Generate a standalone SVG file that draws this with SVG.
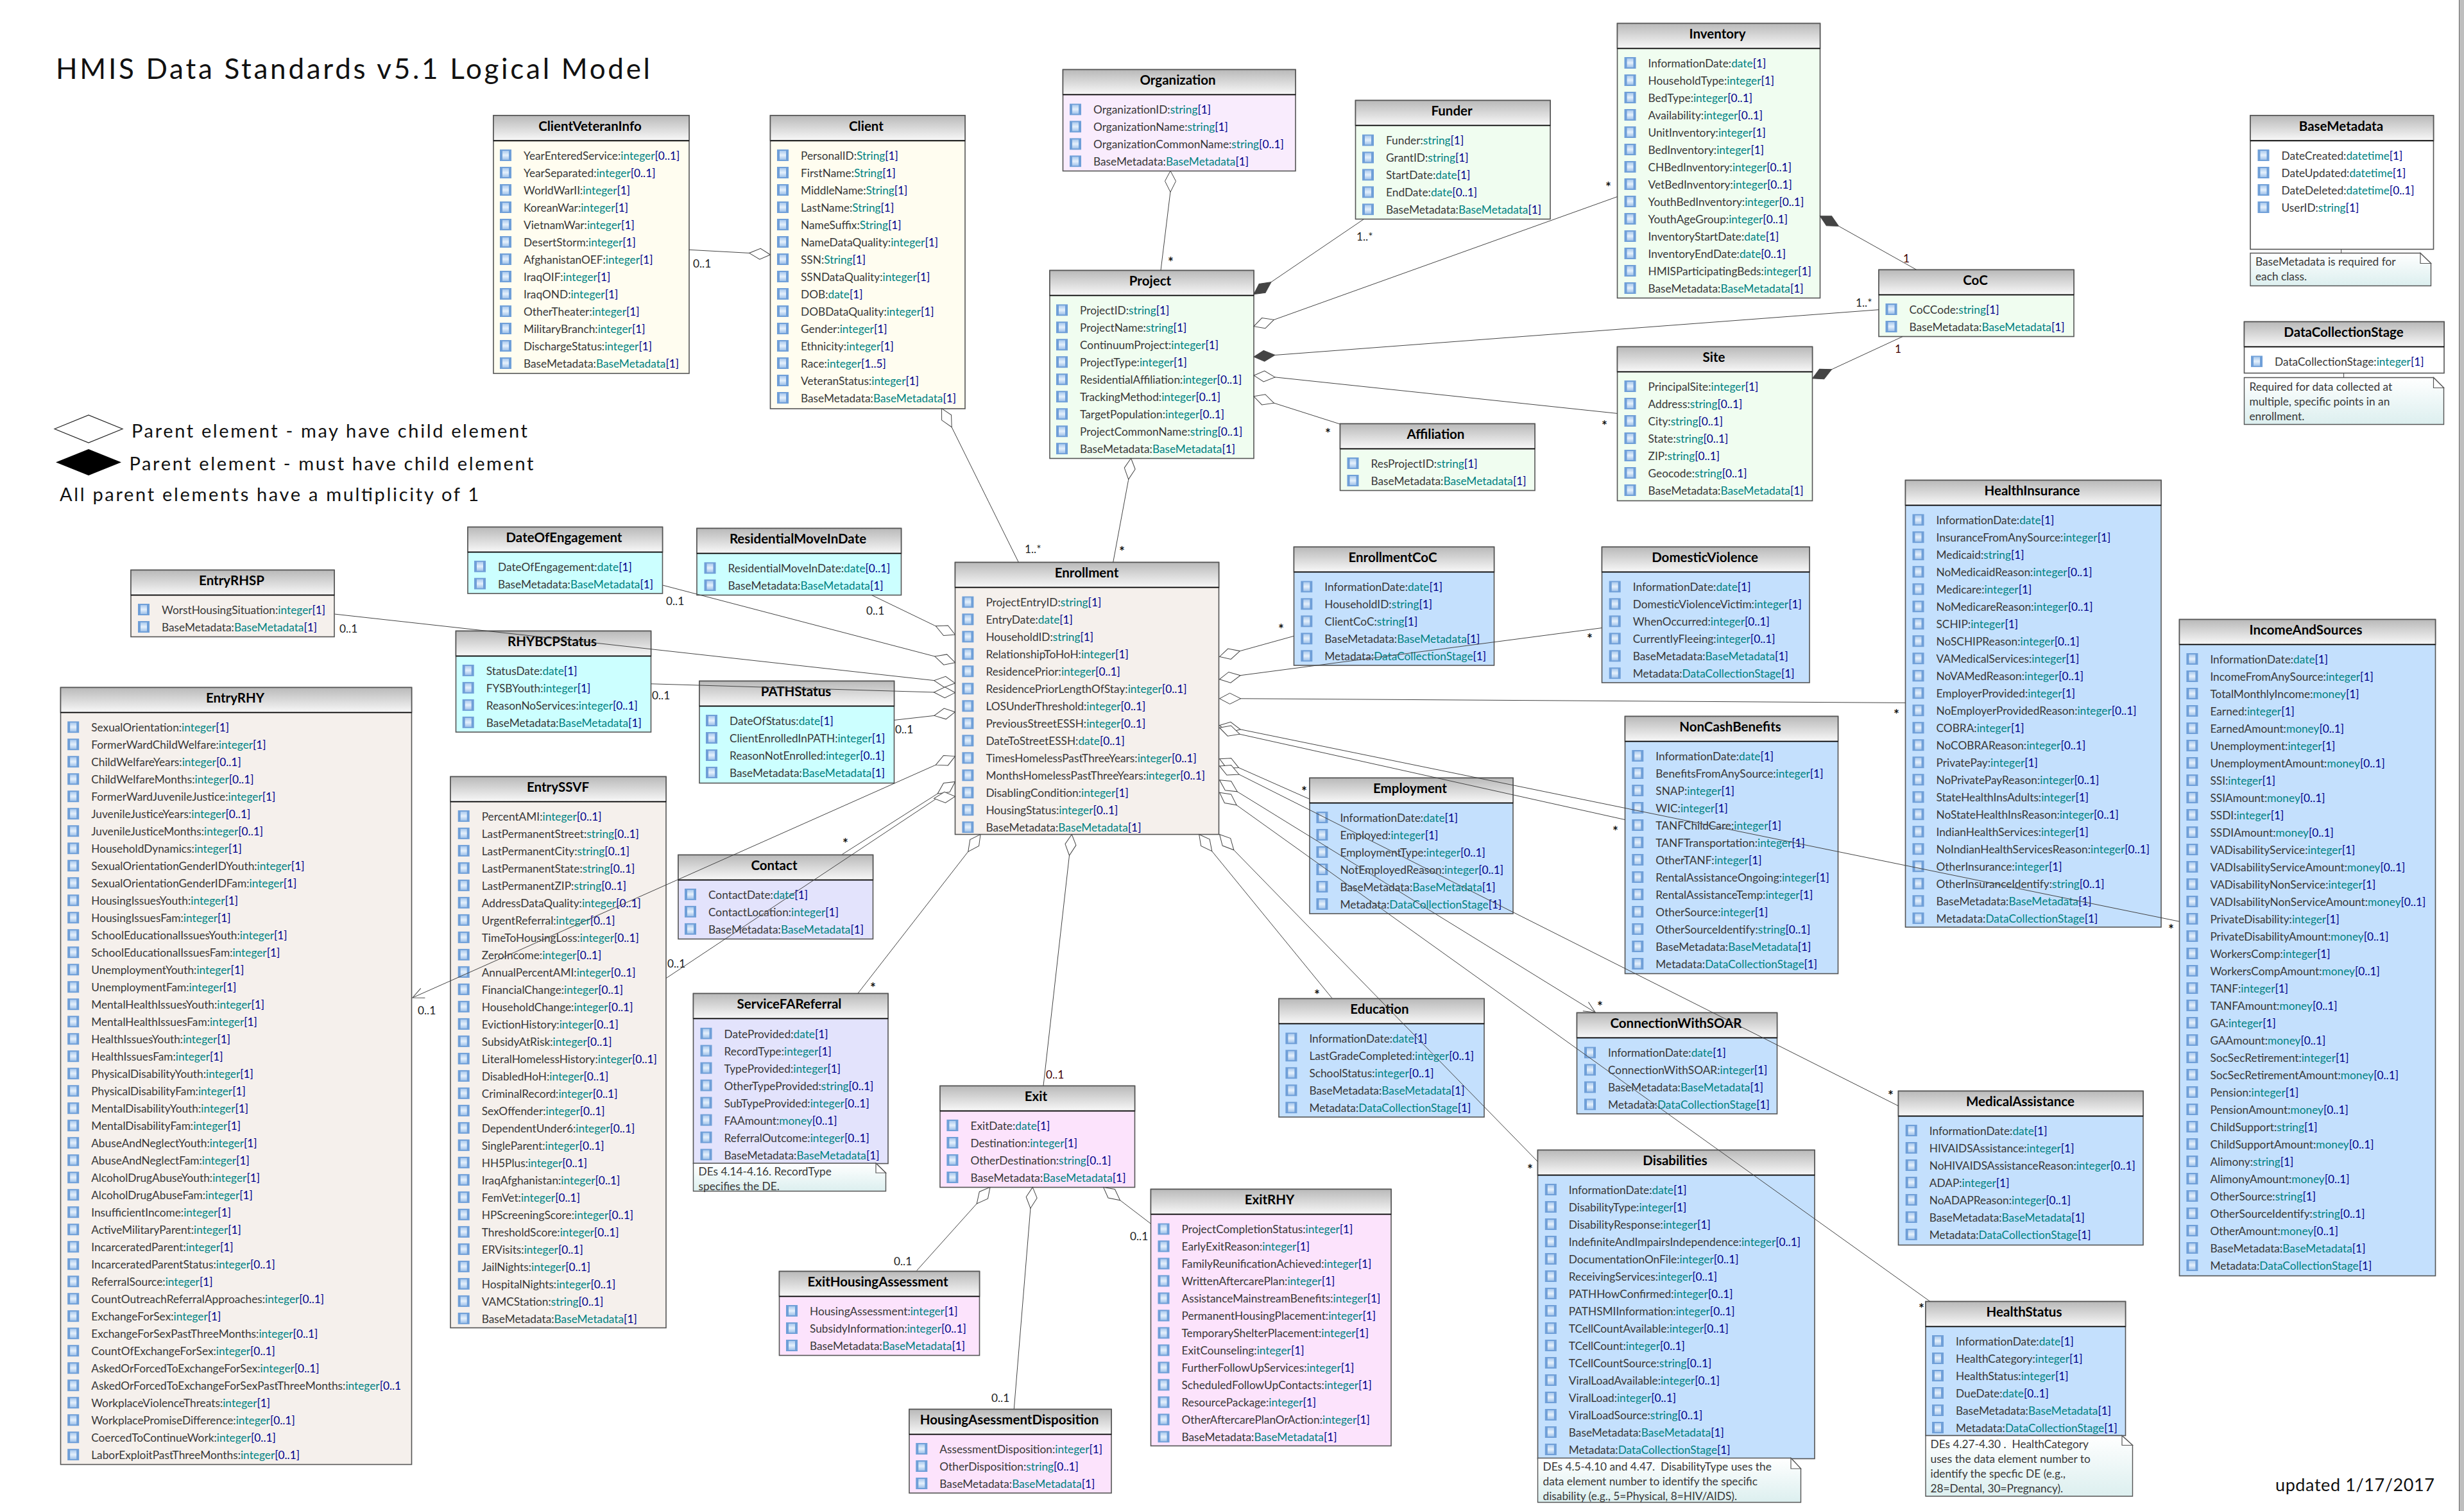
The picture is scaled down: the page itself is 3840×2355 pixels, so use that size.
<svg xmlns="http://www.w3.org/2000/svg" xmlns:xlink="http://www.w3.org/1999/xlink" width="3840" height="2355" viewBox="0 0 3840 2355">
<style>
text{font-family:"Lato","Carlito","Open Sans",sans-serif;fill:#383838}
.r text,.nt{font-size:17.3px}
.r text{transform:translateY(1px)}
.t{fill:#008282}
.m{fill:#00008b}
.ti{font-size:20.5px;font-weight:700;fill:#000;text-anchor:middle}
.b{stroke:#555;stroke-width:1.6}
.h{fill:url(#hg);stroke:#555;stroke-width:1.6}
.s{stroke:#000;stroke-width:1.6}
.ic{fill:url(#ip)}
.fy{fill:#fffdf0}.fp{fill:#f9ecfd}.fg{fill:#f0fdf0}.fc{fill:#ccffff}.fs{fill:#f5f0ec}.fl{fill:#e3e3fc}.fm{fill:#fce3fc}.fb{fill:#c4e0fd}.fw{fill:#fff}
.note{fill:url(#ng);stroke:#555;stroke-width:1.4}
.fold{fill:#fff;stroke:#555;stroke-width:1.2}
.lg{font-size:29px;fill:#111;font-weight:400}
.lb{font-size:17.3px;fill:#222}
.st{font-size:21px;fill:#111;font-weight:700}
.lm{font-size:17.3px;fill:#400}
#connectors path{fill:none;stroke:#444;stroke-width:1}
.o{marker-start:url(#od)}
.f{marker-start:url(#fd)}
.a{marker-end:url(#oa)}
</style>
<defs>
<linearGradient id="hg" x1="0" y1="0" x2="0" y2="1"><stop offset="0" stop-color="#b9b9b9"/><stop offset="1" stop-color="#f8f8f8"/></linearGradient>
<linearGradient id="ng" x1="0" y1="0" x2="0" y2="1"><stop offset="0" stop-color="#fff"/><stop offset="1" stop-color="#dcefef"/></linearGradient>
<linearGradient id="ii" x1="0" y1="0" x2="0" y2="1"><stop offset="0" stop-color="#a9c9ee"/><stop offset=".5" stop-color="#e6f1fc"/><stop offset="1" stop-color="#9fc2ea"/></linearGradient>
<pattern id="ip" patternUnits="userSpaceOnUse" x="-37" y="-15" width="18" height="27"><rect width="18" height="18" fill="#6f9fd8"/><rect x="4" y="2" width="10" height="14" fill="url(#ii)"/></pattern>
<marker id="od" markerUnits="userSpaceOnUse" orient="auto" refX="1" refY="11" markerWidth="36" markerHeight="22"><path d="M1,11 L17,2.5 L34,11 L17,19.5 Z" fill="#fff" stroke="#444" stroke-width="1"/></marker>
<marker id="fd" markerUnits="userSpaceOnUse" orient="auto" refX="1" refY="11" markerWidth="36" markerHeight="22"><path d="M1,11 L17,2.5 L34,11 L17,19.5 Z" fill="#444" stroke="#444" stroke-width="1"/></marker>
<marker id="oa" markerUnits="userSpaceOnUse" orient="auto" refX="20" refY="10" markerWidth="22" markerHeight="20"><path d="M2.3,1.8 L20,10 L2.3,18.2" fill="none" stroke="#444" stroke-width="1"/></marker>
</defs>
<rect width="3840" height="2355" fill="#fff"/>
<rect x="3832.5" y="0" width="7.5" height="2355" fill="#bebebe"/>
<rect x="3832" y="0" width="1" height="2355" fill="#666"/>

<g id="legend">
<text x="87" y="122.5" font-size="44" textLength="926" style="fill:#111">HMIS Data Standards v5.1 Logical Model</text>
<polygon points="85,668.5 138,647 191,668.5 138,690" fill="#fff" stroke="#222" stroke-width="1.2"/>
<text class="lg" x="205" y="682" textLength="617">Parent element - may have child element</text>
<polygon points="87,720.5 138,700 189,720.5 138,741" fill="#000"/>
<text class="lg" x="201.5" y="733" textLength="630">Parent element - must have child element</text>
<text class="lg" x="93" y="781" textLength="653">All parent elements have a multiplicity of 1</text>
</g>
<text class="lg" id="updated" x="3546" y="2324" style="font-size:27px" textLength="248">updated 1/17/2017</text>

<g id="ClientVeteranInfo"><rect class="b fy" x="769" y="180" width="305" height="402"/><rect class="h" x="769" y="180" width="305" height="39"/><line class="s" x1="769" y1="219.5" x2="1074" y2="219.5"/><text class="ti" x="919.5" y="203.5">ClientVeteranInfo</text>
<g class="r" transform="translate(816,248)"><rect class="ic" x="-37" y="-15" width="18" height="342"/>
<text y="0">YearEnteredService:<tspan class="t">integer</tspan><tspan class="m">[0..1]</tspan></text>
<text y="27">YearSeparated:<tspan class="t">integer</tspan><tspan class="m">[0..1]</tspan></text>
<text y="54">WorldWarII:<tspan class="t">integer</tspan><tspan class="m">[1]</tspan></text>
<text y="81">KoreanWar:<tspan class="t">integer</tspan><tspan class="m">[1]</tspan></text>
<text y="108">VietnamWar:<tspan class="t">integer</tspan><tspan class="m">[1]</tspan></text>
<text y="135">DesertStorm:<tspan class="t">integer</tspan><tspan class="m">[1]</tspan></text>
<text y="162">AfghanistanOEF:<tspan class="t">integer</tspan><tspan class="m">[1]</tspan></text>
<text y="189">IraqOIF:<tspan class="t">integer</tspan><tspan class="m">[1]</tspan></text>
<text y="216">IraqOND:<tspan class="t">integer</tspan><tspan class="m">[1]</tspan></text>
<text y="243">OtherTheater:<tspan class="t">integer</tspan><tspan class="m">[1]</tspan></text>
<text y="270">MilitaryBranch:<tspan class="t">integer</tspan><tspan class="m">[1]</tspan></text>
<text y="297">DischargeStatus:<tspan class="t">integer</tspan><tspan class="m">[1]</tspan></text>
<text y="324">BaseMetadata:<tspan class="t">BaseMetadata</tspan><tspan class="m">[1]</tspan></text>
</g></g>

<g id="Client"><rect class="b fy" x="1200.5" y="180" width="303.5" height="457"/><rect class="h" x="1200.5" y="180" width="303.5" height="39"/><line class="s" x1="1200.5" y1="219.5" x2="1504" y2="219.5"/><text class="ti" x="1350" y="203.5">Client</text>
<g class="r" transform="translate(1248,248)"><rect class="ic" x="-37" y="-15" width="18" height="396"/>
<text y="0">PersonalID:<tspan class="t">String</tspan><tspan class="m">[1]</tspan></text>
<text y="27">FirstName:<tspan class="t">String</tspan><tspan class="m">[1]</tspan></text>
<text y="54">MiddleName:<tspan class="t">String</tspan><tspan class="m">[1]</tspan></text>
<text y="81">LastName:<tspan class="t">String</tspan><tspan class="m">[1]</tspan></text>
<text y="108">NameSuffix:<tspan class="t">String</tspan><tspan class="m">[1]</tspan></text>
<text y="135">NameDataQuality:<tspan class="t">integer</tspan><tspan class="m">[1]</tspan></text>
<text y="162">SSN:<tspan class="t">String</tspan><tspan class="m">[1]</tspan></text>
<text y="189">SSNDataQuality:<tspan class="t">integer</tspan><tspan class="m">[1]</tspan></text>
<text y="216">DOB:<tspan class="t">date</tspan><tspan class="m">[1]</tspan></text>
<text y="243">DOBDataQuality:<tspan class="t">integer</tspan><tspan class="m">[1]</tspan></text>
<text y="270">Gender:<tspan class="t">integer</tspan><tspan class="m">[1]</tspan></text>
<text y="297">Ethnicity:<tspan class="t">integer</tspan><tspan class="m">[1]</tspan></text>
<text y="324">Race:<tspan class="t">integer</tspan><tspan class="m">[1..5]</tspan></text>
<text y="351">VeteranStatus:<tspan class="t">integer</tspan><tspan class="m">[1]</tspan></text>
<text y="378">BaseMetadata:<tspan class="t">BaseMetadata</tspan><tspan class="m">[1]</tspan></text>
</g></g>

<g id="Organization"><rect class="b fp" x="1656.5" y="108.5" width="362.5" height="158"/><rect class="h" x="1656.5" y="108.5" width="362.5" height="39"/><line class="s" x1="1656.5" y1="147.5" x2="2019" y2="147.5"/><text class="ti" x="1835.5" y="132">Organization</text>
<g class="r" transform="translate(1704,176.4)"><rect class="ic" x="-37" y="-15" width="18" height="99"/>
<text y="0">OrganizationID:<tspan class="t">string</tspan><tspan class="m">[1]</tspan></text>
<text y="27">OrganizationName:<tspan class="t">string</tspan><tspan class="m">[1]</tspan></text>
<text y="54">OrganizationCommonName:<tspan class="t">string</tspan><tspan class="m">[0..1]</tspan></text>
<text y="81">BaseMetadata:<tspan class="t">BaseMetadata</tspan><tspan class="m">[1]</tspan></text>
</g></g>

<g id="Funder"><rect class="b fg" x="2112.5" y="156.5" width="303.5" height="185"/><rect class="h" x="2112.5" y="156.5" width="303.5" height="39"/><line class="s" x1="2112.5" y1="195.5" x2="2416" y2="195.5"/><text class="ti" x="2262.5" y="180">Funder</text>
<g class="r" transform="translate(2160,224.4)"><rect class="ic" x="-37" y="-15" width="18" height="126"/>
<text y="0">Funder:<tspan class="t">string</tspan><tspan class="m">[1]</tspan></text>
<text y="27">GrantID:<tspan class="t">string</tspan><tspan class="m">[1]</tspan></text>
<text y="54">StartDate:<tspan class="t">date</tspan><tspan class="m">[1]</tspan></text>
<text y="81">EndDate:<tspan class="t">date</tspan><tspan class="m">[0..1]</tspan></text>
<text y="108">BaseMetadata:<tspan class="t">BaseMetadata</tspan><tspan class="m">[1]</tspan></text>
</g></g>

<g id="Project"><rect class="b fg" x="1636" y="421.5" width="318" height="293"/><rect class="h" x="1636" y="421.5" width="318" height="39"/><line class="s" x1="1636" y1="460.5" x2="1954" y2="460.5"/><text class="ti" x="1792.5" y="445">Project</text>
<g class="r" transform="translate(1683,489.2)"><rect class="ic" x="-37" y="-15" width="18" height="234"/>
<text y="0">ProjectID:<tspan class="t">string</tspan><tspan class="m">[1]</tspan></text>
<text y="27">ProjectName:<tspan class="t">string</tspan><tspan class="m">[1]</tspan></text>
<text y="54">ContinuumProject:<tspan class="t">integer</tspan><tspan class="m">[1]</tspan></text>
<text y="81">ProjectType:<tspan class="t">integer</tspan><tspan class="m">[1]</tspan></text>
<text y="108">ResidentialAffiliation:<tspan class="t">integer</tspan><tspan class="m">[0..1]</tspan></text>
<text y="135">TrackingMethod:<tspan class="t">integer</tspan><tspan class="m">[0..1]</tspan></text>
<text y="162">TargetPopulation:<tspan class="t">integer</tspan><tspan class="m">[0..1]</tspan></text>
<text y="189">ProjectCommonName:<tspan class="t">string</tspan><tspan class="m">[0..1]</tspan></text>
<text y="216">BaseMetadata:<tspan class="t">BaseMetadata</tspan><tspan class="m">[1]</tspan></text>
</g></g>

<g id="Affiliation"><rect class="b fg" x="2088.5" y="660.5" width="303.5" height="104"/><rect class="h" x="2088.5" y="660.5" width="303.5" height="39"/><line class="s" x1="2088.5" y1="699.5" x2="2392" y2="699.5"/><text class="ti" x="2237.5" y="684">Affiliation</text>
<g class="r" transform="translate(2136.5,728)"><rect class="ic" x="-37" y="-15" width="18" height="45"/>
<text y="0">ResProjectID:<tspan class="t">string</tspan><tspan class="m">[1]</tspan></text>
<text y="27">BaseMetadata:<tspan class="t">BaseMetadata</tspan><tspan class="m">[1]</tspan></text>
</g></g>

<g id="Inventory"><rect class="b fg" x="2520.5" y="36.5" width="316" height="428"/><rect class="h" x="2520.5" y="36.5" width="316" height="39"/><line class="s" x1="2520.5" y1="75.5" x2="2836.5" y2="75.5"/><text class="ti" x="2676.5" y="60">Inventory</text>
<g class="r" transform="translate(2568.5,104)"><rect class="ic" x="-37" y="-15" width="18" height="369"/>
<text y="0">InformationDate:<tspan class="t">date</tspan><tspan class="m">[1]</tspan></text>
<text y="27">HouseholdType:<tspan class="t">integer</tspan><tspan class="m">[1]</tspan></text>
<text y="54">BedType:<tspan class="t">integer</tspan><tspan class="m">[0..1]</tspan></text>
<text y="81">Availability:<tspan class="t">integer</tspan><tspan class="m">[0..1]</tspan></text>
<text y="108">UnitInventory:<tspan class="t">integer</tspan><tspan class="m">[1]</tspan></text>
<text y="135">BedInventory:<tspan class="t">integer</tspan><tspan class="m">[1]</tspan></text>
<text y="162">CHBedInventory:<tspan class="t">integer</tspan><tspan class="m">[0..1]</tspan></text>
<text y="189">VetBedInventory:<tspan class="t">integer</tspan><tspan class="m">[0..1]</tspan></text>
<text y="216">YouthBedInventory:<tspan class="t">integer</tspan><tspan class="m">[0..1]</tspan></text>
<text y="243">YouthAgeGroup:<tspan class="t">integer</tspan><tspan class="m">[0..1]</tspan></text>
<text y="270">InventoryStartDate:<tspan class="t">date</tspan><tspan class="m">[1]</tspan></text>
<text y="297">InventoryEndDate:<tspan class="t">date</tspan><tspan class="m">[0..1]</tspan></text>
<text y="324">HMISParticipatingBeds:<tspan class="t">integer</tspan><tspan class="m">[1]</tspan></text>
<text y="351">BaseMetadata:<tspan class="t">BaseMetadata</tspan><tspan class="m">[1]</tspan></text>
</g></g>

<g id="Site"><rect class="b fg" x="2520.5" y="540.5" width="304" height="240"/><rect class="h" x="2520.5" y="540.5" width="304" height="39"/><line class="s" x1="2520.5" y1="579.5" x2="2824.5" y2="579.5"/><text class="ti" x="2671" y="564">Site</text>
<g class="r" transform="translate(2568.5,608)"><rect class="ic" x="-37" y="-15" width="18" height="180"/>
<text y="0">PrincipalSite:<tspan class="t">integer</tspan><tspan class="m">[1]</tspan></text>
<text y="27">Address:<tspan class="t">string</tspan><tspan class="m">[0..1]</tspan></text>
<text y="54">City:<tspan class="t">string</tspan><tspan class="m">[0..1]</tspan></text>
<text y="81">State:<tspan class="t">string</tspan><tspan class="m">[0..1]</tspan></text>
<text y="108">ZIP:<tspan class="t">string</tspan><tspan class="m">[0..1]</tspan></text>
<text y="135">Geocode:<tspan class="t">string</tspan><tspan class="m">[0..1]</tspan></text>
<text y="162">BaseMetadata:<tspan class="t">BaseMetadata</tspan><tspan class="m">[1]</tspan></text>
</g></g>

<g id="CoC"><rect class="b fg" x="2928" y="420.5" width="304" height="104"/><rect class="h" x="2928" y="420.5" width="304" height="39"/><line class="s" x1="2928" y1="459.5" x2="3232" y2="459.5"/><text class="ti" x="3078.5" y="444">CoC</text>
<g class="r" transform="translate(2975.5,488)"><rect class="ic" x="-37" y="-15" width="18" height="45"/>
<text y="0">CoCCode:<tspan class="t">string</tspan><tspan class="m">[1]</tspan></text>
<text y="27">BaseMetadata:<tspan class="t">BaseMetadata</tspan><tspan class="m">[1]</tspan></text>
</g></g>

<g id="BaseMetadata"><rect class="b fw" x="3507" y="180" width="285.5" height="208.5"/><rect class="h" x="3507" y="180" width="285.5" height="39"/><line class="s" x1="3507" y1="219.5" x2="3792.5" y2="219.5"/><text class="ti" x="3648.5" y="203.5">BaseMetadata</text>
<g class="r" transform="translate(3555.5,248)"><rect class="ic" x="-37" y="-15" width="18" height="99"/>
<text y="0">DateCreated:<tspan class="t">datetime</tspan><tspan class="m">[1]</tspan></text>
<text y="27">DateUpdated:<tspan class="t">datetime</tspan><tspan class="m">[1]</tspan></text>
<text y="54">DateDeleted:<tspan class="t">datetime</tspan><tspan class="m">[0..1]</tspan></text>
<text y="81">UserID:<tspan class="t">string</tspan><tspan class="m">[1]</tspan></text>
</g></g>
<g id="BaseMetadataNote"><path class="note" d="M3507,394.5 H3772 L3788.5,410.5 V445.5 H3507 Z"/><path class="fold" d="M3772,394.5 V410.5 H3788.5 Z"/><text class="nt" x="3515" y="414">BaseMetadata is required for</text><text class="nt" x="3515" y="437">each class.</text></g>

<g id="DataCollectionStage"><rect class="b fw" x="3497.5" y="501.5" width="311.5" height="80"/><rect class="h" x="3497.5" y="501.5" width="311.5" height="39"/><line class="s" x1="3497.5" y1="540.5" x2="3809" y2="540.5"/><text class="ti" x="3652.5" y="525">DataCollectionStage</text>
<g class="r" transform="translate(3545,569.3)"><rect class="ic" x="-37" y="-15" width="18" height="18"/>
<text y="0">DataCollectionStage:<tspan class="t">integer</tspan><tspan class="m">[1]</tspan></text>
</g></g>
<g id="DataCollectionStageNote"><path class="note" d="M3497.5,588.5 H3792.5 L3808.5,604.5 V661.5 H3497.5 Z"/><path class="fold" d="M3792.5,588.5 V604.5 H3808.5 Z"/><text class="nt" x="3505.5" y="608.5">Required for data collected at</text><text class="nt" x="3505.5" y="631.5">multiple, specific points in an</text><text class="nt" x="3505.5" y="654.5">enrollment.</text></g>

<g id="EntryRHSP"><rect class="b fs" x="204" y="888.5" width="317" height="104"/><rect class="h" x="204" y="888.5" width="317" height="39"/><line class="s" x1="204" y1="927.5" x2="521" y2="927.5"/><text class="ti" x="361" y="912">EntryRHSP</text>
<g class="r" transform="translate(252,956)"><rect class="ic" x="-37" y="-15" width="18" height="45"/>
<text y="0">WorstHousingSituation:<tspan class="t">integer</tspan><tspan class="m">[1]</tspan></text>
<text y="27">BaseMetadata:<tspan class="t">BaseMetadata</tspan><tspan class="m">[1]</tspan></text>
</g></g>

<g id="EntryRHY"><rect class="b fs" x="94.5" y="1071.5" width="547" height="1211"/><rect class="h" x="94.5" y="1071.5" width="547" height="39"/><line class="s" x1="94.5" y1="1110.5" x2="641.5" y2="1110.5"/><text class="ti" x="366.5" y="1095">EntryRHY</text>
<g class="r" transform="translate(142.2,1139.2)"><rect class="ic" x="-37" y="-15" width="18" height="1152"/>
<text y="0">SexualOrientation:<tspan class="t">integer</tspan><tspan class="m">[1]</tspan></text>
<text y="27">FormerWardChildWelfare:<tspan class="t">integer</tspan><tspan class="m">[1]</tspan></text>
<text y="54">ChildWelfareYears:<tspan class="t">integer</tspan><tspan class="m">[0..1]</tspan></text>
<text y="81">ChildWelfareMonths:<tspan class="t">integer</tspan><tspan class="m">[0..1]</tspan></text>
<text y="108">FormerWardJuvenileJustice:<tspan class="t">integer</tspan><tspan class="m">[1]</tspan></text>
<text y="135">JuvenileJusticeYears:<tspan class="t">integer</tspan><tspan class="m">[0..1]</tspan></text>
<text y="162">JuvenileJusticeMonths:<tspan class="t">integer</tspan><tspan class="m">[0..1]</tspan></text>
<text y="189">HouseholdDynamics:<tspan class="t">integer</tspan><tspan class="m">[1]</tspan></text>
<text y="216">SexualOrientationGenderIDYouth:<tspan class="t">integer</tspan><tspan class="m">[1]</tspan></text>
<text y="243">SexualOrientationGenderIDFam:<tspan class="t">integer</tspan><tspan class="m">[1]</tspan></text>
<text y="270">HousingIssuesYouth:<tspan class="t">integer</tspan><tspan class="m">[1]</tspan></text>
<text y="297">HousingIssuesFam:<tspan class="t">integer</tspan><tspan class="m">[1]</tspan></text>
<text y="324">SchoolEducationalIssuesYouth:<tspan class="t">integer</tspan><tspan class="m">[1]</tspan></text>
<text y="351">SchoolEducationalIssuesFam:<tspan class="t">integer</tspan><tspan class="m">[1]</tspan></text>
<text y="378">UnemploymentYouth:<tspan class="t">integer</tspan><tspan class="m">[1]</tspan></text>
<text y="405">UnemploymentFam:<tspan class="t">integer</tspan><tspan class="m">[1]</tspan></text>
<text y="432">MentalHealthIssuesYouth:<tspan class="t">integer</tspan><tspan class="m">[1]</tspan></text>
<text y="459">MentalHealthIssuesFam:<tspan class="t">integer</tspan><tspan class="m">[1]</tspan></text>
<text y="486">HealthIssuesYouth:<tspan class="t">integer</tspan><tspan class="m">[1]</tspan></text>
<text y="513">HealthIssuesFam:<tspan class="t">integer</tspan><tspan class="m">[1]</tspan></text>
<text y="540">PhysicalDisabilityYouth:<tspan class="t">integer</tspan><tspan class="m">[1]</tspan></text>
<text y="567">PhysicalDisabilityFam:<tspan class="t">integer</tspan><tspan class="m">[1]</tspan></text>
<text y="594">MentalDisabilityYouth:<tspan class="t">integer</tspan><tspan class="m">[1]</tspan></text>
<text y="621">MentalDisabilityFam:<tspan class="t">integer</tspan><tspan class="m">[1]</tspan></text>
<text y="648">AbuseAndNeglectYouth:<tspan class="t">integer</tspan><tspan class="m">[1]</tspan></text>
<text y="675">AbuseAndNeglectFam:<tspan class="t">integer</tspan><tspan class="m">[1]</tspan></text>
<text y="702">AlcoholDrugAbuseYouth:<tspan class="t">integer</tspan><tspan class="m">[1]</tspan></text>
<text y="729">AlcoholDrugAbuseFam:<tspan class="t">integer</tspan><tspan class="m">[1]</tspan></text>
<text y="756">InsufficientIncome:<tspan class="t">integer</tspan><tspan class="m">[1]</tspan></text>
<text y="783">ActiveMilitaryParent:<tspan class="t">integer</tspan><tspan class="m">[1]</tspan></text>
<text y="810">IncarceratedParent:<tspan class="t">integer</tspan><tspan class="m">[1]</tspan></text>
<text y="837">IncarceratedParentStatus:<tspan class="t">integer</tspan><tspan class="m">[0..1]</tspan></text>
<text y="864">ReferralSource:<tspan class="t">integer</tspan><tspan class="m">[1]</tspan></text>
<text y="891">CountOutreachReferralApproaches:<tspan class="t">integer</tspan><tspan class="m">[0..1]</tspan></text>
<text y="918">ExchangeForSex:<tspan class="t">integer</tspan><tspan class="m">[1]</tspan></text>
<text y="945">ExchangeForSexPastThreeMonths:<tspan class="t">integer</tspan><tspan class="m">[0..1]</tspan></text>
<text y="972">CountOfExchangeForSex:<tspan class="t">integer</tspan><tspan class="m">[0..1]</tspan></text>
<text y="999">AskedOrForcedToExchangeForSex:<tspan class="t">integer</tspan><tspan class="m">[0..1]</tspan></text>
<text y="1026">AskedOrForcedToExchangeForSexPastThreeMonths:<tspan class="t">integer</tspan><tspan class="m">[0..1</tspan></text>
<text y="1053">WorkplaceViolenceThreats:<tspan class="t">integer</tspan><tspan class="m">[1]</tspan></text>
<text y="1080">WorkplacePromiseDifference:<tspan class="t">integer</tspan><tspan class="m">[0..1]</tspan></text>
<text y="1107">CoercedToContinueWork:<tspan class="t">integer</tspan><tspan class="m">[0..1]</tspan></text>
<text y="1134">LaborExploitPastThreeMonths:<tspan class="t">integer</tspan><tspan class="m">[0..1]</tspan></text>
</g></g>

<g id="DateOfEngagement"><rect class="b fc" x="729" y="821.5" width="303.5" height="103.5"/><rect class="h" x="729" y="821.5" width="303.5" height="39"/><line class="s" x1="729" y1="860.5" x2="1032.5" y2="860.5"/><text class="ti" x="879" y="845">DateOfEngagement</text>
<g class="r" transform="translate(776,888.7)"><rect class="ic" x="-37" y="-15" width="18" height="45"/>
<text y="0">DateOfEngagement:<tspan class="t">date</tspan><tspan class="m">[1]</tspan></text>
<text y="27">BaseMetadata:<tspan class="t">BaseMetadata</tspan><tspan class="m">[1]</tspan></text>
</g></g>

<g id="ResidentialMoveInDate"><rect class="b fc" x="1086" y="823.5" width="318.5" height="104"/><rect class="h" x="1086" y="823.5" width="318.5" height="39"/><line class="s" x1="1086" y1="862.5" x2="1404.5" y2="862.5"/><text class="ti" x="1243.5" y="847">ResidentialMoveInDate</text>
<g class="r" transform="translate(1134.5,891.2)"><rect class="ic" x="-37" y="-15" width="18" height="45"/>
<text y="0">ResidentialMoveInDate:<tspan class="t">date</tspan><tspan class="m">[0..1]</tspan></text>
<text y="27">BaseMetadata:<tspan class="t">BaseMetadata</tspan><tspan class="m">[1]</tspan></text>
</g></g>

<g id="RHYBCPStatus"><rect class="b fc" x="710.5" y="983.5" width="304" height="157.5"/><rect class="h" x="710.5" y="983.5" width="304" height="39"/><line class="s" x1="710.5" y1="1022.5" x2="1014.5" y2="1022.5"/><text class="ti" x="860.5" y="1007">RHYBCPStatus</text>
<g class="r" transform="translate(757.7,1050.9)"><rect class="ic" x="-37" y="-15" width="18" height="99"/>
<text y="0">StatusDate:<tspan class="t">date</tspan><tspan class="m">[1]</tspan></text>
<text y="27">FYSBYouth:<tspan class="t">integer</tspan><tspan class="m">[1]</tspan></text>
<text y="54">ReasonNoServices:<tspan class="t">integer</tspan><tspan class="m">[0..1]</tspan></text>
<text y="81">BaseMetadata:<tspan class="t">BaseMetadata</tspan><tspan class="m">[1]</tspan></text>
</g></g>

<g id="PATHStatus"><rect class="b fc" x="1090" y="1061.5" width="303.5" height="159"/><rect class="h" x="1090" y="1061.5" width="303.5" height="39"/><line class="s" x1="1090" y1="1100.5" x2="1393.5" y2="1100.5"/><text class="ti" x="1240.5" y="1085">PATHStatus</text>
<g class="r" transform="translate(1137,1129)"><rect class="ic" x="-37" y="-15" width="18" height="99"/>
<text y="0">DateOfStatus:<tspan class="t">date</tspan><tspan class="m">[1]</tspan></text>
<text y="27">ClientEnrolledInPATH:<tspan class="t">integer</tspan><tspan class="m">[1]</tspan></text>
<text y="54">ReasonNotEnrolled:<tspan class="t">integer</tspan><tspan class="m">[0..1]</tspan></text>
<text y="81">BaseMetadata:<tspan class="t">BaseMetadata</tspan><tspan class="m">[1]</tspan></text>
</g></g>

<g id="EntrySSVF"><rect class="b fs" x="702" y="1210.5" width="336" height="859"/><rect class="h" x="702" y="1210.5" width="336" height="39"/><line class="s" x1="702" y1="1249.5" x2="1038" y2="1249.5"/><text class="ti" x="869.5" y="1234">EntrySSVF</text>
<g class="r" transform="translate(750.7,1277.9)"><rect class="ic" x="-37" y="-15" width="18" height="801"/>
<text y="0">PercentAMI:<tspan class="t">integer</tspan><tspan class="m">[0..1]</tspan></text>
<text y="27">LastPermanentStreet:<tspan class="t">string</tspan><tspan class="m">[0..1]</tspan></text>
<text y="54">LastPermanentCity:<tspan class="t">string</tspan><tspan class="m">[0..1]</tspan></text>
<text y="81">LastPermanentState:<tspan class="t">string</tspan><tspan class="m">[0..1]</tspan></text>
<text y="108">LastPermanentZIP:<tspan class="t">string</tspan><tspan class="m">[0..1]</tspan></text>
<text y="135">AddressDataQuality:<tspan class="t">integer</tspan><tspan class="m">[0..1]</tspan></text>
<text y="162">UrgentReferral:<tspan class="t">integer</tspan><tspan class="m">[0..1]</tspan></text>
<text y="189">TimeToHousingLoss:<tspan class="t">integer</tspan><tspan class="m">[0..1]</tspan></text>
<text y="216">ZeroIncome:<tspan class="t">integer</tspan><tspan class="m">[0..1]</tspan></text>
<text y="243">AnnualPercentAMI:<tspan class="t">integer</tspan><tspan class="m">[0..1]</tspan></text>
<text y="270">FinancialChange:<tspan class="t">integer</tspan><tspan class="m">[0..1]</tspan></text>
<text y="297">HouseholdChange:<tspan class="t">integer</tspan><tspan class="m">[0..1]</tspan></text>
<text y="324">EvictionHistory:<tspan class="t">integer</tspan><tspan class="m">[0..1]</tspan></text>
<text y="351">SubsidyAtRisk:<tspan class="t">integer</tspan><tspan class="m">[0..1]</tspan></text>
<text y="378">LiteralHomelessHistory:<tspan class="t">integer</tspan><tspan class="m">[0..1]</tspan></text>
<text y="405">DisabledHoH:<tspan class="t">integer</tspan><tspan class="m">[0..1]</tspan></text>
<text y="432">CriminalRecord:<tspan class="t">integer</tspan><tspan class="m">[0..1]</tspan></text>
<text y="459">SexOffender:<tspan class="t">integer</tspan><tspan class="m">[0..1]</tspan></text>
<text y="486">DependentUnder6:<tspan class="t">integer</tspan><tspan class="m">[0..1]</tspan></text>
<text y="513">SingleParent:<tspan class="t">integer</tspan><tspan class="m">[0..1]</tspan></text>
<text y="540">HH5Plus:<tspan class="t">integer</tspan><tspan class="m">[0..1]</tspan></text>
<text y="567">IraqAfghanistan:<tspan class="t">integer</tspan><tspan class="m">[0..1]</tspan></text>
<text y="594">FemVet:<tspan class="t">integer</tspan><tspan class="m">[0..1]</tspan></text>
<text y="621">HPScreeningScore:<tspan class="t">integer</tspan><tspan class="m">[0..1]</tspan></text>
<text y="648">ThresholdScore:<tspan class="t">integer</tspan><tspan class="m">[0..1]</tspan></text>
<text y="675">ERVisits:<tspan class="t">integer</tspan><tspan class="m">[0..1]</tspan></text>
<text y="702">JailNights:<tspan class="t">integer</tspan><tspan class="m">[0..1]</tspan></text>
<text y="729">HospitalNights:<tspan class="t">integer</tspan><tspan class="m">[0..1]</tspan></text>
<text y="756">VAMCStation:<tspan class="t">string</tspan><tspan class="m">[0..1]</tspan></text>
<text y="783">BaseMetadata:<tspan class="t">BaseMetadata</tspan><tspan class="m">[1]</tspan></text>
</g></g>

<g id="Enrollment"><rect class="b fs" x="1488.5" y="876.5" width="411" height="424"/><rect class="h" x="1488.5" y="876.5" width="411" height="39"/><line class="s" x1="1488.5" y1="915.5" x2="1899.5" y2="915.5"/><text class="ti" x="1693.5" y="900">Enrollment</text>
<g class="r" transform="translate(1536.4,944.3)"><rect class="ic" x="-37" y="-15" width="18" height="369"/>
<text y="0">ProjectEntryID:<tspan class="t">string</tspan><tspan class="m">[1]</tspan></text>
<text y="27">EntryDate:<tspan class="t">date</tspan><tspan class="m">[1]</tspan></text>
<text y="54">HouseholdID:<tspan class="t">string</tspan><tspan class="m">[1]</tspan></text>
<text y="81">RelationshipToHoH:<tspan class="t">integer</tspan><tspan class="m">[1]</tspan></text>
<text y="108">ResidencePrior:<tspan class="t">integer</tspan><tspan class="m">[0..1]</tspan></text>
<text y="135">ResidencePriorLengthOfStay:<tspan class="t">integer</tspan><tspan class="m">[0..1]</tspan></text>
<text y="162">LOSUnderThreshold:<tspan class="t">integer</tspan><tspan class="m">[0..1]</tspan></text>
<text y="189">PreviousStreetESSH:<tspan class="t">integer</tspan><tspan class="m">[0..1]</tspan></text>
<text y="216">DateToStreetESSH:<tspan class="t">date</tspan><tspan class="m">[0..1]</tspan></text>
<text y="243">TimesHomelessPastThreeYears:<tspan class="t">integer</tspan><tspan class="m">[0..1]</tspan></text>
<text y="270">MonthsHomelessPastThreeYears:<tspan class="t">integer</tspan><tspan class="m">[0..1]</tspan></text>
<text y="297">DisablingCondition:<tspan class="t">integer</tspan><tspan class="m">[1]</tspan></text>
<text y="324">HousingStatus:<tspan class="t">integer</tspan><tspan class="m">[0..1]</tspan></text>
<text y="351">BaseMetadata:<tspan class="t">BaseMetadata</tspan><tspan class="m">[1]</tspan></text>
</g></g>

<g id="Contact"><rect class="b fl" x="1057" y="1332.5" width="303.5" height="131"/><rect class="h" x="1057" y="1332.5" width="303.5" height="39"/><line class="s" x1="1057" y1="1371.5" x2="1360.5" y2="1371.5"/><text class="ti" x="1206.5" y="1356">Contact</text>
<g class="r" transform="translate(1104,1399.9)"><rect class="ic" x="-37" y="-15" width="18" height="72"/>
<text y="0">ContactDate:<tspan class="t">date</tspan><tspan class="m">[1]</tspan></text>
<text y="27">ContactLocation:<tspan class="t">integer</tspan><tspan class="m">[1]</tspan></text>
<text y="54">BaseMetadata:<tspan class="t">BaseMetadata</tspan><tspan class="m">[1]</tspan></text>
</g></g>

<g id="ServiceFAReferral"><rect class="b fl" x="1080.5" y="1548.5" width="303.5" height="265"/><rect class="h" x="1080.5" y="1548.5" width="303.5" height="39"/><line class="s" x1="1080.5" y1="1587.5" x2="1384" y2="1587.5"/><text class="ti" x="1230" y="1572">ServiceFAReferral</text>
<g class="r" transform="translate(1128.5,1616.6)"><rect class="ic" x="-37" y="-15" width="18" height="207"/>
<text y="0">DateProvided:<tspan class="t">date</tspan><tspan class="m">[1]</tspan></text>
<text y="27">RecordType:<tspan class="t">integer</tspan><tspan class="m">[1]</tspan></text>
<text y="54">TypeProvided:<tspan class="t">integer</tspan><tspan class="m">[1]</tspan></text>
<text y="81">OtherTypeProvided:<tspan class="t">string</tspan><tspan class="m">[0..1]</tspan></text>
<text y="108">SubTypeProvided:<tspan class="t">integer</tspan><tspan class="m">[0..1]</tspan></text>
<text y="135">FAAmount:<tspan class="t">money</tspan><tspan class="m">[0..1]</tspan></text>
<text y="162">ReferralOutcome:<tspan class="t">integer</tspan><tspan class="m">[0..1]</tspan></text>
<text y="189">BaseMetadata:<tspan class="t">BaseMetadata</tspan><tspan class="m">[1]</tspan></text>
</g></g>
<g id="ServiceFAReferralNote"><path class="note" d="M1080.5,1813 H1365 L1380.5,1828 V1856.5 H1080.5 Z"/><path class="fold" d="M1365,1813 V1828 H1380.5 Z"/><text class="nt" x="1088.5" y="1832.3">DEs 4.14-4.16. RecordType</text><text class="nt" x="1088.5" y="1855">specifies the DE.</text></g>

<g id="Exit"><rect class="b fm" x="1465" y="1692.5" width="303.5" height="158"/><rect class="h" x="1465" y="1692.5" width="303.5" height="39"/><line class="s" x1="1465" y1="1731.5" x2="1768.5" y2="1731.5"/><text class="ti" x="1614.5" y="1716">Exit</text>
<g class="r" transform="translate(1512.4,1760)"><rect class="ic" x="-37" y="-15" width="18" height="99"/>
<text y="0">ExitDate:<tspan class="t">date</tspan><tspan class="m">[1]</tspan></text>
<text y="27">Destination:<tspan class="t">integer</tspan><tspan class="m">[1]</tspan></text>
<text y="54">OtherDestination:<tspan class="t">string</tspan><tspan class="m">[0..1]</tspan></text>
<text y="81">BaseMetadata:<tspan class="t">BaseMetadata</tspan><tspan class="m">[1]</tspan></text>
</g></g>

<g id="ExitHousingAssessment"><rect class="b fm" x="1214.5" y="1981.5" width="312" height="131"/><rect class="h" x="1214.5" y="1981.5" width="312" height="39"/><line class="s" x1="1214.5" y1="2020.5" x2="1526.5" y2="2020.5"/><text class="ti" x="1368" y="2005">ExitHousingAssessment</text>
<g class="r" transform="translate(1262,2049)"><rect class="ic" x="-37" y="-15" width="18" height="72"/>
<text y="0">HousingAssessment:<tspan class="t">integer</tspan><tspan class="m">[1]</tspan></text>
<text y="27">SubsidyInformation:<tspan class="t">integer</tspan><tspan class="m">[0..1]</tspan></text>
<text y="54">BaseMetadata:<tspan class="t">BaseMetadata</tspan><tspan class="m">[1]</tspan></text>
</g></g>

<g id="HousingAsessmentDisposition"><rect class="b fm" x="1417" y="2196.5" width="315" height="130.5"/><rect class="h" x="1417" y="2196.5" width="315" height="39"/><line class="s" x1="1417" y1="2235.5" x2="1732" y2="2235.5"/><text class="ti" x="1573" y="2220">HousingAsessmentDisposition</text>
<g class="r" transform="translate(1464.3,2264)"><rect class="ic" x="-37" y="-15" width="18" height="72"/>
<text y="0">AssessmentDisposition:<tspan class="t">integer</tspan><tspan class="m">[1]</tspan></text>
<text y="27">OtherDisposition:<tspan class="t">string</tspan><tspan class="m">[0..1]</tspan></text>
<text y="54">BaseMetadata:<tspan class="t">BaseMetadata</tspan><tspan class="m">[1]</tspan></text>
</g></g>

<g id="ExitRHY"><rect class="b fm" x="1793.5" y="1853.5" width="374.5" height="400"/><rect class="h" x="1793.5" y="1853.5" width="374.5" height="39"/><line class="s" x1="1793.5" y1="1892.5" x2="2168" y2="1892.5"/><text class="ti" x="1978.5" y="1877">ExitRHY</text>
<g class="r" transform="translate(1841.5,1921.4)"><rect class="ic" x="-37" y="-15" width="18" height="342"/>
<text y="0">ProjectCompletionStatus:<tspan class="t">integer</tspan><tspan class="m">[1]</tspan></text>
<text y="27">EarlyExitReason:<tspan class="t">integer</tspan><tspan class="m">[1]</tspan></text>
<text y="54">FamilyReunificationAchieved:<tspan class="t">integer</tspan><tspan class="m">[1]</tspan></text>
<text y="81">WrittenAftercarePlan:<tspan class="t">integer</tspan><tspan class="m">[1]</tspan></text>
<text y="108">AssistanceMainstreamBenefits:<tspan class="t">integer</tspan><tspan class="m">[1]</tspan></text>
<text y="135">PermanentHousingPlacement:<tspan class="t">integer</tspan><tspan class="m">[1]</tspan></text>
<text y="162">TemporaryShelterPlacement:<tspan class="t">integer</tspan><tspan class="m">[1]</tspan></text>
<text y="189">ExitCounseling:<tspan class="t">integer</tspan><tspan class="m">[1]</tspan></text>
<text y="216">FurtherFollowUpServices:<tspan class="t">integer</tspan><tspan class="m">[1]</tspan></text>
<text y="243">ScheduledFollowUpContacts:<tspan class="t">integer</tspan><tspan class="m">[1]</tspan></text>
<text y="270">ResourcePackage:<tspan class="t">integer</tspan><tspan class="m">[1]</tspan></text>
<text y="297">OtherAftercarePlanOrAction:<tspan class="t">integer</tspan><tspan class="m">[1]</tspan></text>
<text y="324">BaseMetadata:<tspan class="t">BaseMetadata</tspan><tspan class="m">[1]</tspan></text>
</g></g>

<g id="EnrollmentCoC"><rect class="b fb" x="2016.5" y="852.5" width="312" height="184.5"/><rect class="h" x="2016.5" y="852.5" width="312" height="39"/><line class="s" x1="2016.5" y1="891.5" x2="2328.5" y2="891.5"/><text class="ti" x="2170.5" y="876">EnrollmentCoC</text>
<g class="r" transform="translate(2064.3,920.3)"><rect class="ic" x="-37" y="-15" width="18" height="126"/>
<text y="0">InformationDate:<tspan class="t">date</tspan><tspan class="m">[1]</tspan></text>
<text y="27">HouseholdID:<tspan class="t">string</tspan><tspan class="m">[1]</tspan></text>
<text y="54">ClientCoC:<tspan class="t">string</tspan><tspan class="m">[1]</tspan></text>
<text y="81">BaseMetadata:<tspan class="t">BaseMetadata</tspan><tspan class="m">[1]</tspan></text>
<text y="108">Metadata:<tspan class="t">DataCollectionStage</tspan><tspan class="m">[1]</tspan></text>
</g></g>

<g id="DomesticViolence"><rect class="b fb" x="2496.5" y="852.5" width="323.5" height="211.5"/><rect class="h" x="2496.5" y="852.5" width="323.5" height="39"/><line class="s" x1="2496.5" y1="891.5" x2="2820" y2="891.5"/><text class="ti" x="2657" y="876">DomesticViolence</text>
<g class="r" transform="translate(2544.7,920.3)"><rect class="ic" x="-37" y="-15" width="18" height="153"/>
<text y="0">InformationDate:<tspan class="t">date</tspan><tspan class="m">[1]</tspan></text>
<text y="27">DomesticViolenceVictim:<tspan class="t">integer</tspan><tspan class="m">[1]</tspan></text>
<text y="54">WhenOccurred:<tspan class="t">integer</tspan><tspan class="m">[0..1]</tspan></text>
<text y="81">CurrentlyFleeing:<tspan class="t">integer</tspan><tspan class="m">[0..1]</tspan></text>
<text y="108">BaseMetadata:<tspan class="t">BaseMetadata</tspan><tspan class="m">[1]</tspan></text>
<text y="135">Metadata:<tspan class="t">DataCollectionStage</tspan><tspan class="m">[1]</tspan></text>
</g></g>

<g id="NonCashBenefits"><rect class="b fb" x="2532.5" y="1116.5" width="332" height="401"/><rect class="h" x="2532.5" y="1116.5" width="332" height="39"/><line class="s" x1="2532.5" y1="1155.5" x2="2864.5" y2="1155.5"/><text class="ti" x="2696.5" y="1140">NonCashBenefits</text>
<g class="r" transform="translate(2580.3,1184)"><rect class="ic" x="-37" y="-15" width="18" height="342"/>
<text y="0">InformationDate:<tspan class="t">date</tspan><tspan class="m">[1]</tspan></text>
<text y="27">BenefitsFromAnySource:<tspan class="t">integer</tspan><tspan class="m">[1]</tspan></text>
<text y="54">SNAP:<tspan class="t">integer</tspan><tspan class="m">[1]</tspan></text>
<text y="81">WIC:<tspan class="t">integer</tspan><tspan class="m">[1]</tspan></text>
<text y="108">TANFChildCare:<tspan class="t">integer</tspan><tspan class="m">[1]</tspan></text>
<text y="135">TANFTransportation:<tspan class="t">integer</tspan><tspan class="m">[1]</tspan></text>
<text y="162">OtherTANF:<tspan class="t">integer</tspan><tspan class="m">[1]</tspan></text>
<text y="189">RentalAssistanceOngoing:<tspan class="t">integer</tspan><tspan class="m">[1]</tspan></text>
<text y="216">RentalAssistanceTemp:<tspan class="t">integer</tspan><tspan class="m">[1]</tspan></text>
<text y="243">OtherSource:<tspan class="t">integer</tspan><tspan class="m">[1]</tspan></text>
<text y="270">OtherSourceIdentify:<tspan class="t">string</tspan><tspan class="m">[0..1]</tspan></text>
<text y="297">BaseMetadata:<tspan class="t">BaseMetadata</tspan><tspan class="m">[1]</tspan></text>
<text y="324">Metadata:<tspan class="t">DataCollectionStage</tspan><tspan class="m">[1]</tspan></text>
</g></g>

<g id="Employment"><rect class="b fb" x="2041" y="1212.5" width="317" height="211.5"/><rect class="h" x="2041" y="1212.5" width="317" height="39"/><line class="s" x1="2041" y1="1251.5" x2="2358" y2="1251.5"/><text class="ti" x="2197.5" y="1236">Employment</text>
<g class="r" transform="translate(2088.4,1280)"><rect class="ic" x="-37" y="-15" width="18" height="153"/>
<text y="0">InformationDate:<tspan class="t">date</tspan><tspan class="m">[1]</tspan></text>
<text y="27">Employed:<tspan class="t">integer</tspan><tspan class="m">[1]</tspan></text>
<text y="54">EmploymentType:<tspan class="t">integer</tspan><tspan class="m">[0..1]</tspan></text>
<text y="81">NotEmployedReason:<tspan class="t">integer</tspan><tspan class="m">[0..1]</tspan></text>
<text y="108">BaseMetadata:<tspan class="t">BaseMetadata</tspan><tspan class="m">[1]</tspan></text>
<text y="135">Metadata:<tspan class="t">DataCollectionStage</tspan><tspan class="m">[1]</tspan></text>
</g></g>

<g id="Education"><rect class="b fb" x="1993" y="1556.5" width="320" height="184.5"/><rect class="h" x="1993" y="1556.5" width="320" height="39"/><line class="s" x1="1993" y1="1595.5" x2="2313" y2="1595.5"/><text class="ti" x="2150" y="1580">Education</text>
<g class="r" transform="translate(2040.4,1624.3)"><rect class="ic" x="-37" y="-15" width="18" height="126"/>
<text y="0">InformationDate:<tspan class="t">date</tspan><tspan class="m">[1]</tspan></text>
<text y="27">LastGradeCompleted:<tspan class="t">integer</tspan><tspan class="m">[0..1]</tspan></text>
<text y="54">SchoolStatus:<tspan class="t">integer</tspan><tspan class="m">[0..1]</tspan></text>
<text y="81">BaseMetadata:<tspan class="t">BaseMetadata</tspan><tspan class="m">[1]</tspan></text>
<text y="108">Metadata:<tspan class="t">DataCollectionStage</tspan><tspan class="m">[1]</tspan></text>
</g></g>

<g id="ConnectionWithSOAR"><rect class="b fb" x="2457.5" y="1578.5" width="312" height="157.5"/><rect class="h" x="2457.5" y="1578.5" width="312" height="39"/><line class="s" x1="2457.5" y1="1617.5" x2="2769.5" y2="1617.5"/><text class="ti" x="2612" y="1602">ConnectionWithSOAR</text>
<g class="r" transform="translate(2506,1646.4)"><rect class="ic" x="-37" y="-15" width="18" height="99"/>
<text y="0">InformationDate:<tspan class="t">date</tspan><tspan class="m">[1]</tspan></text>
<text y="27">ConnectionWithSOAR:<tspan class="t">integer</tspan><tspan class="m">[1]</tspan></text>
<text y="54">BaseMetadata:<tspan class="t">BaseMetadata</tspan><tspan class="m">[1]</tspan></text>
<text y="81">Metadata:<tspan class="t">DataCollectionStage</tspan><tspan class="m">[1]</tspan></text>
</g></g>

<g id="Disabilities"><rect class="b fb" x="2396.5" y="1792.5" width="431.5" height="481"/><rect class="h" x="2396.5" y="1792.5" width="431.5" height="39"/><line class="s" x1="2396.5" y1="1831.5" x2="2828" y2="1831.5"/><text class="ti" x="2610.5" y="1816">Disabilities</text>
<g class="r" transform="translate(2444.8,1860)"><rect class="ic" x="-37" y="-15" width="18" height="423"/>
<text y="0">InformationDate:<tspan class="t">date</tspan><tspan class="m">[1]</tspan></text>
<text y="27">DisabilityType:<tspan class="t">integer</tspan><tspan class="m">[1]</tspan></text>
<text y="54">DisabilityResponse:<tspan class="t">integer</tspan><tspan class="m">[1]</tspan></text>
<text y="81">IndefiniteAndImpairsIndependence:<tspan class="t">integer</tspan><tspan class="m">[0..1]</tspan></text>
<text y="108">DocumentationOnFile:<tspan class="t">integer</tspan><tspan class="m">[0..1]</tspan></text>
<text y="135">ReceivingServices:<tspan class="t">integer</tspan><tspan class="m">[0..1]</tspan></text>
<text y="162">PATHHowConfirmed:<tspan class="t">integer</tspan><tspan class="m">[0..1]</tspan></text>
<text y="189">PATHSMIInformation:<tspan class="t">integer</tspan><tspan class="m">[0..1]</tspan></text>
<text y="216">TCellCountAvailable:<tspan class="t">integer</tspan><tspan class="m">[0..1]</tspan></text>
<text y="243">TCellCount:<tspan class="t">integer</tspan><tspan class="m">[0..1]</tspan></text>
<text y="270">TCellCountSource:<tspan class="t">string</tspan><tspan class="m">[0..1]</tspan></text>
<text y="297">ViralLoadAvailable:<tspan class="t">integer</tspan><tspan class="m">[0..1]</tspan></text>
<text y="324">ViralLoad:<tspan class="t">integer</tspan><tspan class="m">[0..1]</tspan></text>
<text y="351">ViralLoadSource:<tspan class="t">string</tspan><tspan class="m">[0..1]</tspan></text>
<text y="378">BaseMetadata:<tspan class="t">BaseMetadata</tspan><tspan class="m">[1]</tspan></text>
<text y="405">Metadata:<tspan class="t">DataCollectionStage</tspan><tspan class="m">[1]</tspan></text>
</g></g>
<g id="DisabilitiesNote"><path class="note" d="M2396.5,2272.5 H2791 L2806.5,2289 V2341.5 H2396.5 Z"/><path class="fold" d="M2791,2272.5 V2289 H2806.5 Z"/><text class="nt" x="2404.5" y="2292">DEs 4.5-4.10 and 4.47.&#160; DisabilityType uses the</text><text class="nt" x="2404.5" y="2315.3">data element number to identify the specific</text><text class="nt" x="2404.5" y="2338.4">disability (e.g., 5=Physical, 8=HIV/AIDS).</text></g>

<g id="MedicalAssistance"><rect class="b fb" x="2958.5" y="1700.5" width="381.5" height="240"/><rect class="h" x="2958.5" y="1700.5" width="381.5" height="39"/><line class="s" x1="2958.5" y1="1739.5" x2="3340" y2="1739.5"/><text class="ti" x="3148.5" y="1724">MedicalAssistance</text>
<g class="r" transform="translate(3006.7,1768)"><rect class="ic" x="-37" y="-15" width="18" height="180"/>
<text y="0">InformationDate:<tspan class="t">date</tspan><tspan class="m">[1]</tspan></text>
<text y="27">HIVAIDSAssistance:<tspan class="t">integer</tspan><tspan class="m">[1]</tspan></text>
<text y="54">NoHIVAIDSAssistanceReason:<tspan class="t">integer</tspan><tspan class="m">[0..1]</tspan></text>
<text y="81">ADAP:<tspan class="t">integer</tspan><tspan class="m">[1]</tspan></text>
<text y="108">NoADAPReason:<tspan class="t">integer</tspan><tspan class="m">[0..1]</tspan></text>
<text y="135">BaseMetadata:<tspan class="t">BaseMetadata</tspan><tspan class="m">[1]</tspan></text>
<text y="162">Metadata:<tspan class="t">DataCollectionStage</tspan><tspan class="m">[1]</tspan></text>
</g></g>

<g id="HealthStatus"><rect class="b fb" x="3001" y="2028.5" width="311.5" height="209"/><rect class="h" x="3001" y="2028.5" width="311.5" height="39"/><line class="s" x1="3001" y1="2067.5" x2="3312.5" y2="2067.5"/><text class="ti" x="3154.5" y="2052">HealthStatus</text>
<g class="r" transform="translate(3048,2096)"><rect class="ic" x="-37" y="-15" width="18" height="153"/>
<text y="0">InformationDate:<tspan class="t">date</tspan><tspan class="m">[1]</tspan></text>
<text y="27">HealthCategory:<tspan class="t">integer</tspan><tspan class="m">[1]</tspan></text>
<text y="54">HealthStatus:<tspan class="t">integer</tspan><tspan class="m">[1]</tspan></text>
<text y="81">DueDate:<tspan class="t">date</tspan><tspan class="m">[0..1]</tspan></text>
<text y="108">BaseMetadata:<tspan class="t">BaseMetadata</tspan><tspan class="m">[1]</tspan></text>
<text y="135">Metadata:<tspan class="t">DataCollectionStage</tspan><tspan class="m">[1]</tspan></text>
</g></g>
<g id="HealthStatusNote"><path class="note" d="M3001,2237.5 H3307 L3323.5,2252.5 V2332 H3001 Z"/><path class="fold" d="M3307,2237.5 V2252.5 H3323.5 Z"/><text class="nt" x="3008.5" y="2257.3">DEs 4.27-4.30 .&#160; HealthCategory</text><text class="nt" x="3008.5" y="2280.4">uses the data element number to</text><text class="nt" x="3008.5" y="2303">identify the specfic DE (e.g.,</text><text class="nt" x="3008.5" y="2326">28=Dental, 30=Pregnancy).</text></g>

<g id="HealthInsurance"><rect class="b fb" x="2969.5" y="748.5" width="398.5" height="696.5"/><rect class="h" x="2969.5" y="748.5" width="398.5" height="39"/><line class="s" x1="2969.5" y1="787.5" x2="3368" y2="787.5"/><text class="ti" x="3167" y="772">HealthInsurance</text>
<g class="r" transform="translate(3017.5,816.2)"><rect class="ic" x="-37" y="-15" width="18" height="639"/>
<text y="0">InformationDate:<tspan class="t">date</tspan><tspan class="m">[1]</tspan></text>
<text y="27">InsuranceFromAnySource:<tspan class="t">integer</tspan><tspan class="m">[1]</tspan></text>
<text y="54">Medicaid:<tspan class="t">string</tspan><tspan class="m">[1]</tspan></text>
<text y="81">NoMedicaidReason:<tspan class="t">integer</tspan><tspan class="m">[0..1]</tspan></text>
<text y="108">Medicare:<tspan class="t">integer</tspan><tspan class="m">[1]</tspan></text>
<text y="135">NoMedicareReason:<tspan class="t">integer</tspan><tspan class="m">[0..1]</tspan></text>
<text y="162">SCHIP:<tspan class="t">integer</tspan><tspan class="m">[1]</tspan></text>
<text y="189">NoSCHIPReason:<tspan class="t">integer</tspan><tspan class="m">[0..1]</tspan></text>
<text y="216">VAMedicalServices:<tspan class="t">integer</tspan><tspan class="m">[1]</tspan></text>
<text y="243">NoVAMedReason:<tspan class="t">integer</tspan><tspan class="m">[0..1]</tspan></text>
<text y="270">EmployerProvided:<tspan class="t">integer</tspan><tspan class="m">[1]</tspan></text>
<text y="297">NoEmployerProvidedReason:<tspan class="t">integer</tspan><tspan class="m">[0..1]</tspan></text>
<text y="324">COBRA:<tspan class="t">integer</tspan><tspan class="m">[1]</tspan></text>
<text y="351">NoCOBRAReason:<tspan class="t">integer</tspan><tspan class="m">[0..1]</tspan></text>
<text y="378">PrivatePay:<tspan class="t">integer</tspan><tspan class="m">[1]</tspan></text>
<text y="405">NoPrivatePayReason:<tspan class="t">integer</tspan><tspan class="m">[0..1]</tspan></text>
<text y="432">StateHealthInsAdults:<tspan class="t">integer</tspan><tspan class="m">[1]</tspan></text>
<text y="459">NoStateHealthInsReason:<tspan class="t">integer</tspan><tspan class="m">[0..1]</tspan></text>
<text y="486">IndianHealthServices:<tspan class="t">integer</tspan><tspan class="m">[1]</tspan></text>
<text y="513">NoIndianHealthServicesReason:<tspan class="t">integer</tspan><tspan class="m">[0..1]</tspan></text>
<text y="540">OtherInsurance:<tspan class="t">integer</tspan><tspan class="m">[1]</tspan></text>
<text y="567">OtherInsuranceIdentify:<tspan class="t">string</tspan><tspan class="m">[0..1]</tspan></text>
<text y="594">BaseMetadata:<tspan class="t">BaseMetadata</tspan><tspan class="m">[1]</tspan></text>
<text y="621">Metadata:<tspan class="t">DataCollectionStage</tspan><tspan class="m">[1]</tspan></text>
</g></g>

<g id="IncomeAndSources"><rect class="b fb" x="3396.5" y="965.5" width="399" height="1023"/><rect class="h" x="3396.5" y="965.5" width="399" height="39"/><line class="s" x1="3396.5" y1="1004.5" x2="3795.5" y2="1004.5"/><text class="ti" x="3593.5" y="989">IncomeAndSources</text>
<g class="r" transform="translate(3444.4,1033)"><rect class="ic" x="-37" y="-15" width="18" height="963"/>
<text y="0">InformationDate:<tspan class="t">date</tspan><tspan class="m">[1]</tspan></text>
<text y="27">IncomeFromAnySource:<tspan class="t">integer</tspan><tspan class="m">[1]</tspan></text>
<text y="54">TotalMonthlyIncome:<tspan class="t">money</tspan><tspan class="m">[1]</tspan></text>
<text y="81">Earned:<tspan class="t">integer</tspan><tspan class="m">[1]</tspan></text>
<text y="108">EarnedAmount:<tspan class="t">money</tspan><tspan class="m">[0..1]</tspan></text>
<text y="135">Unemployment:<tspan class="t">integer</tspan><tspan class="m">[1]</tspan></text>
<text y="162">UnemploymentAmount:<tspan class="t">money</tspan><tspan class="m">[0..1]</tspan></text>
<text y="189">SSI:<tspan class="t">integer</tspan><tspan class="m">[1]</tspan></text>
<text y="216">SSIAmount:<tspan class="t">money</tspan><tspan class="m">[0..1]</tspan></text>
<text y="243">SSDI:<tspan class="t">integer</tspan><tspan class="m">[1]</tspan></text>
<text y="270">SSDIAmount:<tspan class="t">money</tspan><tspan class="m">[0..1]</tspan></text>
<text y="297">VADisabilityService:<tspan class="t">integer</tspan><tspan class="m">[1]</tspan></text>
<text y="324">VADIsabilityServiceAmount:<tspan class="t">money</tspan><tspan class="m">[0..1]</tspan></text>
<text y="351">VADisabilityNonService:<tspan class="t">integer</tspan><tspan class="m">[1]</tspan></text>
<text y="378">VADIsabilityNonServiceAmount:<tspan class="t">money</tspan><tspan class="m">[0..1]</tspan></text>
<text y="405">PrivateDisability:<tspan class="t">integer</tspan><tspan class="m">[1]</tspan></text>
<text y="432">PrivateDisabilityAmount:<tspan class="t">money</tspan><tspan class="m">[0..1]</tspan></text>
<text y="459">WorkersComp:<tspan class="t">integer</tspan><tspan class="m">[1]</tspan></text>
<text y="486">WorkersCompAmount:<tspan class="t">money</tspan><tspan class="m">[0..1]</tspan></text>
<text y="513">TANF:<tspan class="t">integer</tspan><tspan class="m">[1]</tspan></text>
<text y="540">TANFAmount:<tspan class="t">money</tspan><tspan class="m">[0..1]</tspan></text>
<text y="567">GA:<tspan class="t">integer</tspan><tspan class="m">[1]</tspan></text>
<text y="594">GAAmount:<tspan class="t">money</tspan><tspan class="m">[0..1]</tspan></text>
<text y="621">SocSecRetirement:<tspan class="t">integer</tspan><tspan class="m">[1]</tspan></text>
<text y="648">SocSecRetirementAmount:<tspan class="t">money</tspan><tspan class="m">[0..1]</tspan></text>
<text y="675">Pension:<tspan class="t">integer</tspan><tspan class="m">[1]</tspan></text>
<text y="702">PensionAmount:<tspan class="t">money</tspan><tspan class="m">[0..1]</tspan></text>
<text y="729">ChildSupport:<tspan class="t">string</tspan><tspan class="m">[1]</tspan></text>
<text y="756">ChildSupportAmount:<tspan class="t">money</tspan><tspan class="m">[0..1]</tspan></text>
<text y="783">Alimony:<tspan class="t">string</tspan><tspan class="m">[1]</tspan></text>
<text y="810">AlimonyAmount:<tspan class="t">money</tspan><tspan class="m">[0..1]</tspan></text>
<text y="837">OtherSource:<tspan class="t">string</tspan><tspan class="m">[1]</tspan></text>
<text y="864">OtherSourceIdentify:<tspan class="t">string</tspan><tspan class="m">[0..1]</tspan></text>
<text y="891">OtherAmount:<tspan class="t">money</tspan><tspan class="m">[0..1]</tspan></text>
<text y="918">BaseMetadata:<tspan class="t">BaseMetadata</tspan><tspan class="m">[1]</tspan></text>
<text y="945">Metadata:<tspan class="t">DataCollectionStage</tspan><tspan class="m">[1]</tspan></text>
</g></g>

<g id="connectors">
<path class="o" d="M1200.5,397 L1167.3,394.4 L1073.7,389.3"/>
<path class="o" d="M1824,266.3 L1824,298.5 L1809,421.4"/>
<path class="f" d="M1954,458.6 L1981.5,439.3 L2125.8,341.3"/>
<path class="o" d="M1954,508.7 L1986.4,498 L2520.4,306.6"/>
<path class="f" d="M1954,556.1 L1986.4,553.5 L2928.2,482.7"/>
<path class="o" d="M1954,585.2 L1986.4,587.8 L2520.4,644.4"/>
<path class="o" d="M1954,617.8 L1988,629 L2088.5,661"/>
<path class="o" d="M1762.6,714.3 L1758.5,748.5 L1734.7,876.5"/>
<path class="o" d="M1467.5,636.7 L1483.2,665.8 L1587.4,876.5"/>
<path class="f" d="M2836.4,336.7 L2866.5,353 L2986.7,420.4"/>
<path class="f" d="M2824.6,589.8 L2856.2,575 L2965.3,524.5"/>
<path class="o" d="M1488.5,989.3 L1456.7,975 L1358.4,927.5"/>
<path class="o" d="M1488.5,1032.7 L1456.7,1023 L1033.2,912.2"/>
<path class="o" d="M1488.5,1064.8 L1456.7,1060.7 L521.7,957.1"/>
<path class="o" d="M1488.5,1079.6 L1456.7,1079 L1014.7,1065.8"/>
<path class="o" d="M1488.5,1109.7 L1456.7,1115.3 L1393.5,1122.4"/>
<path class="o a" d="M1488.5,1178.6 L1456.7,1192.9 L642.9,1555"/>
<path class="o" d="M1488.5,1218.4 L1462.4,1236.2 L1312.5,1331.6"/>
<path class="o" d="M1488.5,1241.3 L1460.5,1243.9 L1038.3,1524.5"/>
<path class="o" d="M1528,1300.5 L1509,1327 L1336.8,1548.5"/>
<path class="o" d="M1670.3,1300.5 L1666.5,1333.2 L1626,1692.4"/>
<path class="o" d="M1868.7,1300.5 L1887.8,1325.5 L2075.8,1555.6"/>
<path class="o" d="M1900.6,1300.5 L1923.5,1325.5 L2396.3,1810.3"/>
<path class="o" d="M1900.6,1023.5 L1933.7,1014.3 L2016.6,991.3"/>
<path class="o" d="M1900.6,1058.7 L1933.7,1052.6 L2496.5,978.6"/>
<path class="o" d="M1900.6,1088.8 L1933.7,1088.8 L2969.5,1095.4"/>
<path class="o" d="M1900.6,1130.6 L1932.5,1136.7 L3396.4,1436.2"/>
<path class="o" d="M1900.6,1134.2 L1932.5,1144.4 L2532.7,1277.6"/>
<path class="o" d="M1900.6,1182.7 L1928,1195.4 L2040.8,1245.4"/>
<path class="o" d="M1900.6,1193.9 L1931,1207 L2958.2,1723.5"/>
<path class="o a" d="M1900.6,1215.8 L1928,1233.7 L2486.2,1578"/>
<path class="o" d="M1900.6,1235.2 L1926,1254 L3008,2028.5"/>
<path class="o" d="M1543,1850.4 L1522.3,1875.9 L1428.6,1980.4"/>
<path class="o" d="M1609.3,1850.4 L1606,1882.6 L1580.3,2196"/>
<path class="o" d="M1719.6,1850.4 L1746,1871 L1793.4,1907.2"/>
<path d="M3648.6,388.3 V394.4"/>
<path d="M3652.6,581.6 V588.3"/>
</g>

<g id="labels">
<text class="lb" x="1080" y="417">0..1</text>
<text class="st" x="1820" y="416">*</text>
<text class="lb" x="2114" y="375">1..*</text>
<text class="st" x="2502" y="299">*</text>
<text class="lb" x="2892" y="478">1..*</text>
<text class="st" x="2496" y="671">*</text>
<text class="st" x="2065" y="683">*</text>
<text class="st" x="1744" y="867">*</text>
<text class="lb" x="1597" y="862">1..*</text>
<text class="lm" x="2966" y="409">1</text>
<text class="lm" x="2953" y="550">1</text>
<text class="lb" x="1350" y="958">0..1</text>
<text class="lb" x="1038" y="943">0..1</text>
<text class="lb" x="529" y="986">0..1</text>
<text class="lb" x="1016" y="1090">0..1</text>
<text class="lb" x="1395" y="1143">0..1</text>
<text class="lb" x="651" y="1581">0..1</text>
<text class="st" x="1313" y="1322">*</text>
<text class="lb" x="1040" y="1508">0..1</text>
<text class="st" x="1356" y="1547">*</text>
<text class="lm" x="1630" y="1681">0..1</text>
<text class="st" x="2048" y="1558">*</text>
<text class="st" x="2380" y="1830">*</text>
<text class="st" x="1992" y="988">*</text>
<text class="st" x="2473" y="1003">*</text>
<text class="st" x="2951" y="1121">*</text>
<text class="st" x="3379" y="1456">*</text>
<text class="st" x="2513" y="1303">*</text>
<text class="st" x="2028" y="1241">*</text>
<text class="st" x="2942" y="1715">*</text>
<text class="st" x="2489" y="1576">*</text>
<text class="st" x="2990" y="2047">*</text>
<text class="lb" x="1393" y="1972">0..1</text>
<text class="lb" x="1545" y="2185">0..1</text>
<text class="lb" x="1761" y="1933">0..1</text>
</g>
</svg>
